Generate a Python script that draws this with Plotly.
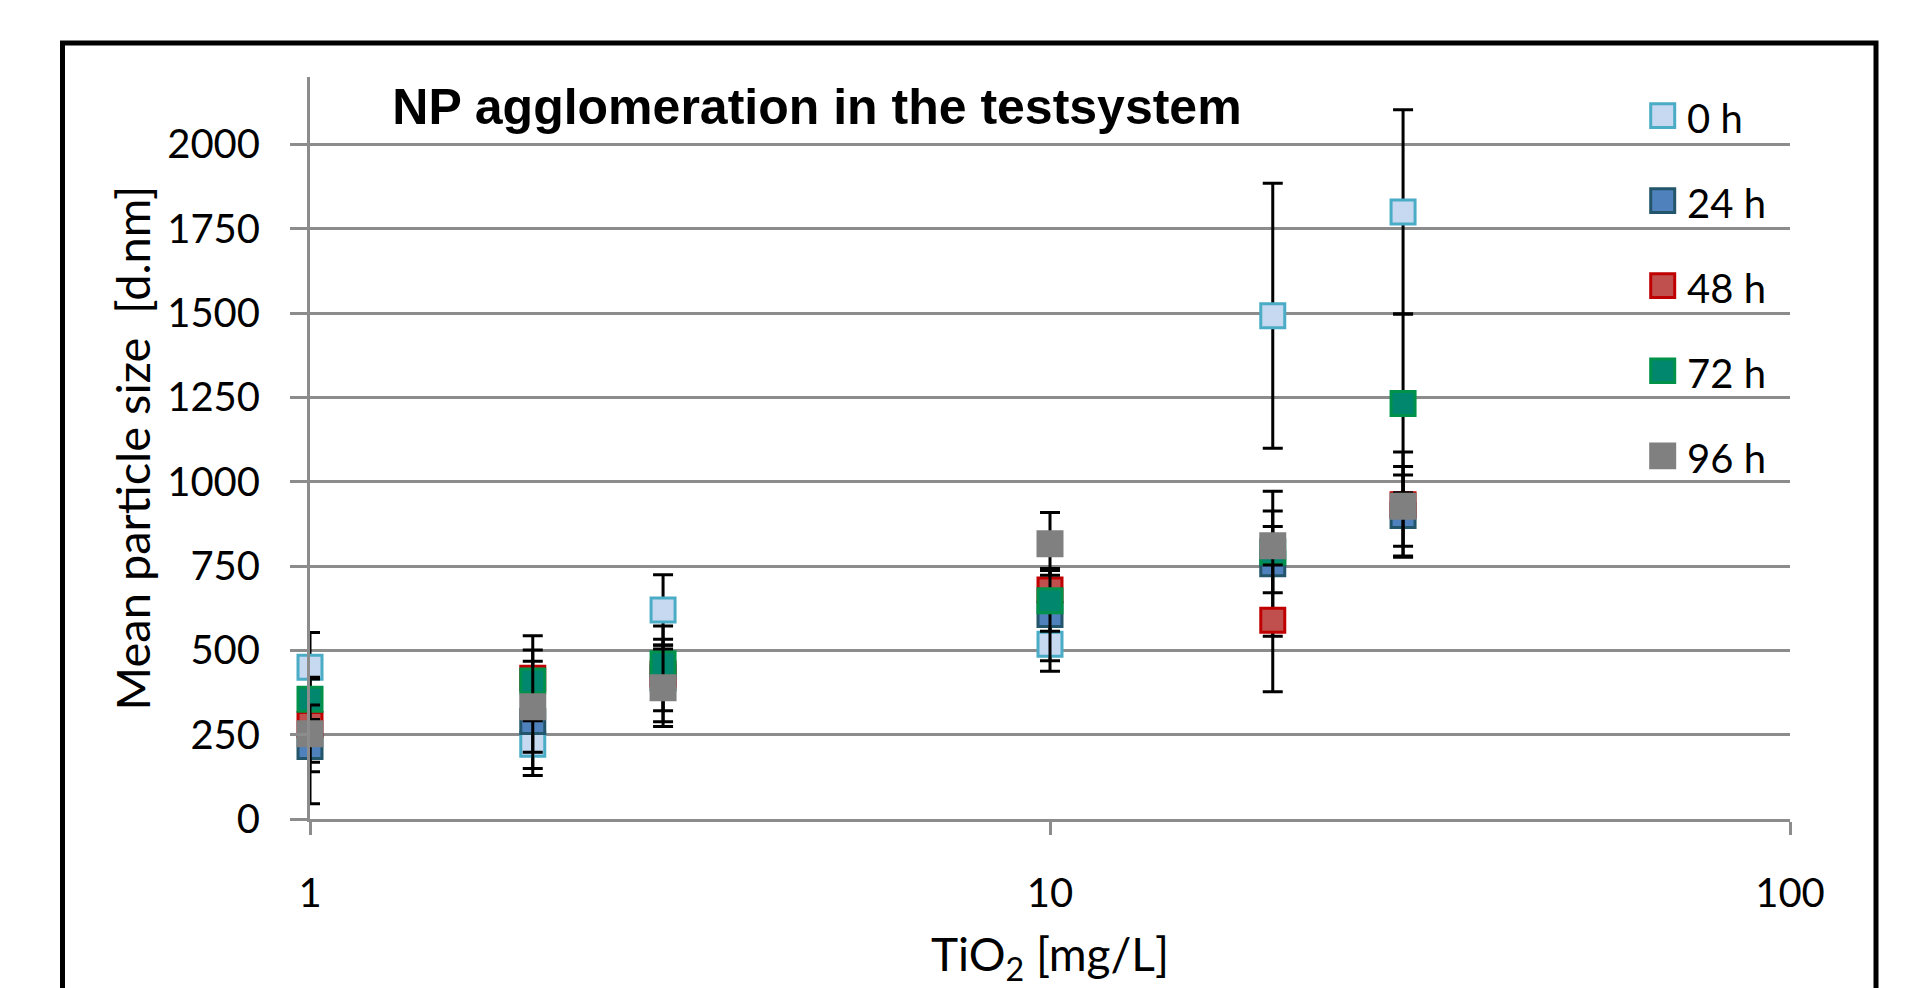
import plotly.graph_objects as go

# ---- data ----
conc = [1, 2, 3, 10, 20, 30]
series_names = ["0 h", "24 h", "48 h", "72 h", "96 h"]
h0 = [450, 222, 620, 518, 1492, 1800]
h24 = [215, 289, 418, 606, 757, 900]
h48 = [280, 417, 430, 679, 589, 932]
h72 = [355, 409, 460, 647, 792, 1232]
h96 = [253, 333, 389, 816, 810, 927]
err0 = [103, 93, 104, 80, 393, 303]
err24 = [170, 139, 97, 137, 215, 120]
err48 = [140, 126, 142, 62, 212, 156]
err72 = [60, 92, 73, 90, 121, 265]
err96 = [85, 135, 115, 93, 57, 118]
y_ticks = [0, 250, 500, 750, 1000, 1250, 1500, 1750, 2000]
x_ticks = [1, 10, 100]

fills = ["#C6D9F1", "#4F81BD", "#C0504D", "#00876E", "#808080"]
edges = ["#4BACC6", "#23566A", "#C00000", "#00924A", "#808080"]

values = [h0, h24, h48, h72, h96]
errors = [err0, err24, err48, err72, err96]

W, H = 1917, 988
ML, MR, MT, MB = 310, 127, 77, 160
pw = W - ML - MR
ph = H - MT - MB

def px2paper_x(px):
    return (px - ML) / pw

def px2paper_y(py):
    return (H - MB - py) / ph

TICKFONT = "Lato, 'Open Sans', sans-serif"
GRID = "#8C8C8C"

fig = go.Figure()
for name, v, e, fc, lc in zip(series_names, values, errors, fills, edges):
    fig.add_trace(go.Scatter(
        x=conc, y=v, name=name, mode="markers", showlegend=False,
        marker=dict(symbol="square", size=24, color=fc, line=dict(color=lc, width=3)),
        error_y=dict(type="data", array=e, visible=True, color="black", thickness=3, width=10),
        cliponaxis=False,
    ))

fig.update_layout(
    width=W, height=H,
    margin=dict(l=ML, r=MR, t=MT, b=MB, pad=0),
    paper_bgcolor="white", plot_bgcolor="white",
    title=dict(text="<b>NP agglomeration in the testsystem</b>",
               x=817 / W, xanchor="center", y=1 - 106 / H, yanchor="middle",
               font=dict(family="Liberation Sans, Arial, sans-serif", size=50, color="black")),
    showlegend=False,
)

fig.update_xaxes(
    type="log", range=[0, 2], tickvals=x_ticks, ticktext=[str(t) for t in x_ticks],
    showgrid=False, zeroline=False,
    showline=True, linecolor=GRID, linewidth=3,
    ticks="outside", ticklen=13, tickwidth=3, tickcolor=GRID,
    tickfont=dict(family=TICKFONT, size=40, color="black"),
    ticklabelstandoff=24,
    title=dict(text="TiO<sub>2</sub> [mg/L]", font=dict(family=TICKFONT, size=46, color="black"), standoff=28),
)
fig.update_yaxes(
    range=[0, 2200], tickvals=y_ticks, ticktext=[str(t) for t in y_ticks],
    showgrid=True, gridcolor=GRID, gridwidth=3, zeroline=False,
    showline=True, linecolor=GRID, linewidth=3,
    ticks="outside", ticklen=17, tickwidth=3, tickcolor=GRID,
    tickfont=dict(family=TICKFONT, size=40, color="black"),
    ticklabelstandoff=22,
    title=dict(text="Mean particle size  [d.nm]", font=dict(family=TICKFONT, size=47, color="black"), standoff=2),
)

# legend drawn as keys + labels (larger keys than plotly's capped legend symbols)
LEG_X_KEY = 1662.7
LEG_Y0 = 116.0
LEG_DY = 86.1
KEY_HALF = 12.0
for i, (name, fc, lc) in enumerate(zip(series_names, fills, edges)):
    cy = LEG_Y0 + i * LEG_DY
    fig.add_shape(type="rect", xref="paper", yref="paper",
                  x0=px2paper_x(LEG_X_KEY - KEY_HALF), x1=px2paper_x(LEG_X_KEY + KEY_HALF),
                  y0=px2paper_y(cy + KEY_HALF), y1=px2paper_y(cy - KEY_HALF),
                  line=dict(color=lc, width=3), fillcolor=fc, layer="above")
    fig.add_annotation(xref="paper", yref="paper", x=px2paper_x(1685), y=px2paper_y(cy + 2),
                       text=name, showarrow=False, xanchor="left", yanchor="middle",
                       font=dict(family=TICKFONT, size=40, color="black"))

# outer chart border (cropped at bottom)
fig.add_shape(type="rect", xref="paper", yref="paper",
              x0=px2paper_x(62.5), x1=px2paper_x(1876), y0=px2paper_y(1010), y1=px2paper_y(42.5),
              line=dict(color="black", width=5), fillcolor="rgba(0,0,0,0)", layer="above")

fig.write_html("out.html")
